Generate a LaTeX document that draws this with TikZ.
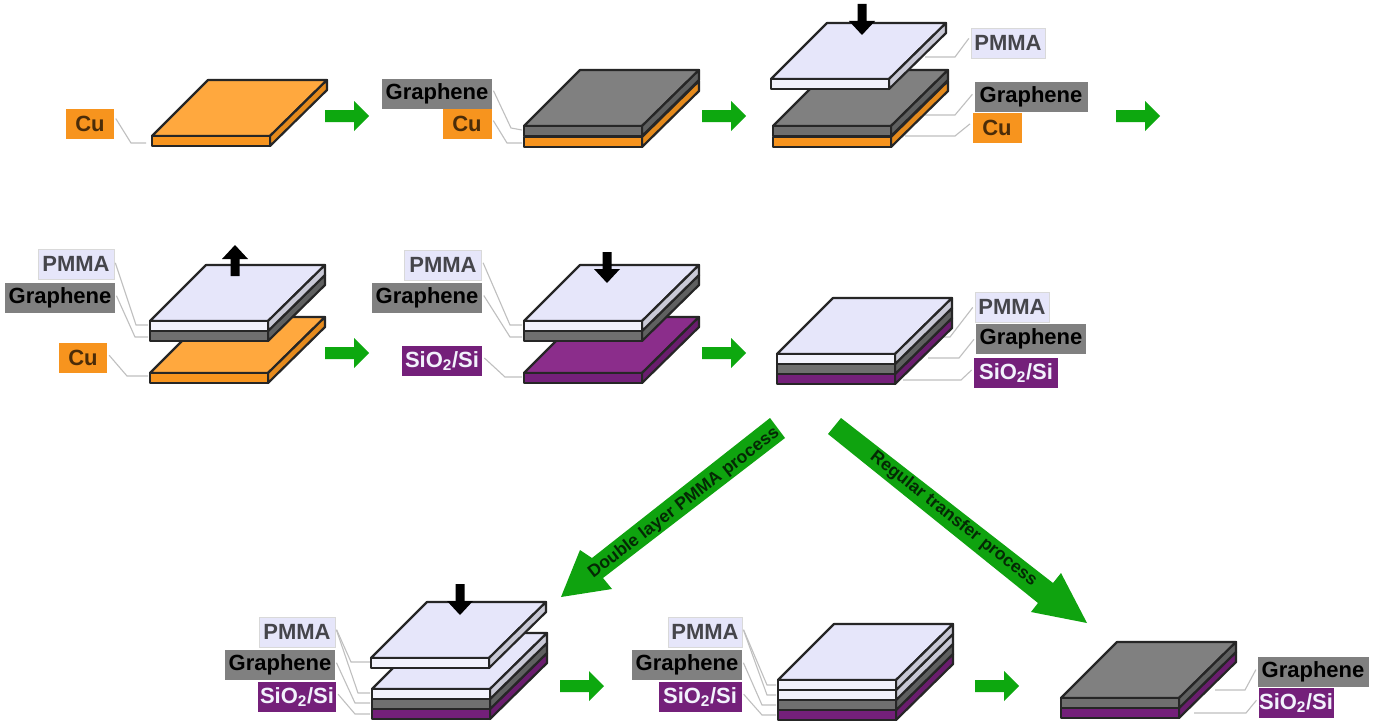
\documentclass[tikz,border=0pt]{standalone}
\usepackage{fontspec}
\setmainfont{Liberation Sans}
\definecolor{cuTop}{HTML}{FFA83E}
\definecolor{cuFront}{HTML}{F7941E}
\definecolor{cuSide}{HTML}{E58A1C}
\definecolor{grTop}{HTML}{808080}
\definecolor{grFront}{HTML}{6F6F6F}
\definecolor{grSide}{HTML}{5F6060}
\definecolor{pmTop}{HTML}{E6E6FA}
\definecolor{pmFront}{HTML}{F2F2FC}
\definecolor{pmSide}{HTML}{C9C9D6}
\definecolor{siTop}{HTML}{8B2D8B}
\definecolor{siFront}{HTML}{74207A}
\definecolor{siSide}{HTML}{6A1D6E}
\definecolor{flow}{HTML}{0DA80F}
\definecolor{flowB}{HTML}{0FA30F}
\tikzset{
  slab/.style={draw=black!85,line width=2.2pt,line join=round},
  leader/.style={draw=black!25,line width=1.1pt,shorten <=3pt},
  tag/.style={font=\bfseries\fontsize{22}{22}\selectfont,minimum height=30pt,inner sep=0pt,anchor=center},
  cutag/.style={tag,fill=cuFront,text=black!70!cuFront},
  grtag/.style={tag,fill=grTop,text=black},
  pmtag/.style={tag,fill=pmTop,draw=black!15,line width=0.8pt,text=black!70!pmTop},
  sitag/.style={tag,fill=siFront,text=pmFront},
  flowtext/.style={font=\bfseries\fontsize{17.5}{17.5}\selectfont,text=black!75!flowB,inner sep=0pt}
}
% face on top: x, y of front-left corner, colour
\newcommand\topface[3]{\filldraw[slab,fill=#3] (#1,#2) -- (#1+56,#2-56) -- (#1+175,#2-56) -- (#1+118,#2) -- cycle;}
% one layer: x, y front top, thickness, front colour, side colour
\newcommand\layer[5]{%
  \filldraw[slab,fill=#5] (#1+118,#2) -- (#1+175,#2-56) -- (#1+175,#2-56+#3) -- (#1+118,#2+#3) -- cycle;
  \filldraw[slab,fill=#4] (#1,#2) rectangle (#1+118,#2+#3);}
\newcommand\lcu[2]{\layer{#1}{#2}{10}{cuFront}{cuSide}}
\newcommand\lgr[2]{\layer{#1}{#2}{10}{grFront}{grSide}}
\newcommand\lpm[2]{\layer{#1}{#2}{10}{pmFront}{pmSide}}
\newcommand\lsi[2]{\layer{#1}{#2}{10}{siFront}{siSide}}
% green step arrow: left x, centre y
\newcommand\stepar[2]{\fill[flow] (#1,#2-6) -- (#1+29,#2-6) -- (#1+29,#2-15) -- (#1+44,#2) -- (#1+29,#2+15) -- (#1+29,#2+6) -- (#1,#2+6) -- cycle;}
% black arrow down / up: centre x, top y
\newcommand\blackdown[2]{\fill[black] (#1-4.5,#2) -- (#1+4.5,#2) -- (#1+4.5,#2+17) -- (#1+13,#2+17) -- (#1,#2+31) -- (#1-13,#2+17) -- (#1-4.5,#2+17) -- cycle;}
\newcommand\blackup[2]{\fill[black] (#1-4.5,#2+31) -- (#1+4.5,#2+31) -- (#1+4.5,#2+14) -- (#1+13,#2+14) -- (#1,#2) -- (#1-13,#2+14) -- (#1-4.5,#2+14) -- cycle;}
% leader: label node, suffix, anchor, y at the label, elbow, end
\newcommand\leadline[6]{\coordinate (#1#2) at (#6); \draw[leader] (#1.#3 |- 0,#4) -- (#5) -- (#1#2);}
\newcommand\sio{SiO\textsubscript{2}/Si}
\begin{document}
\begin{tikzpicture}[x=1pt,y=-1pt]
\useasboundingbox (0,0) rectangle (1376,725);
\fill[white] (0,0) rectangle (1376,725);

% labels
\node[cutag,minimum width=48pt] (cuA) at (90,124) {Cu};
\node[grtag,minimum width=110pt] (grB) at (437,94) {Graphene};
\node[cutag,minimum width=49pt] (cuB) at (467,124) {Cu};
\node[pmtag,minimum width=74pt] (pmC) at (1008,43) {PMMA};
\node[grtag,minimum width=113pt] (grC) at (1031,97) {Graphene};
\node[cutag,minimum width=49pt] (cuC) at (997,128) {Cu};
\node[pmtag,minimum width=76pt] (pmD) at (76,264) {PMMA};
\node[grtag,minimum width=110pt] (grD) at (60,298) {Graphene};
\node[cutag,minimum width=48pt] (cuD) at (83,358) {Cu};
\node[pmtag,minimum width=77pt] (pmE) at (443,265) {PMMA};
\node[grtag,minimum width=110pt] (grE) at (427,298) {Graphene};
\node[sitag,minimum width=80pt] (siE) at (442,361) {\sio};
\node[pmtag,minimum width=74pt] (pmF) at (1012,307) {PMMA};
\node[grtag,minimum width=110pt] (grF) at (1031,339) {Graphene};
\node[sitag,minimum width=84pt] (siF) at (1016,373) {\sio};
\node[pmtag,minimum width=76pt] (pmG) at (297,632) {PMMA};
\node[grtag,minimum width=110pt] (grG) at (280,665) {Graphene};
\node[sitag,minimum width=78pt] (siG) at (297,697) {\sio};
\node[pmtag,minimum width=74pt] (pmH) at (705,632) {PMMA};
\node[grtag,minimum width=110pt] (grH) at (687,665) {Graphene};
\node[sitag,minimum width=83pt] (siH) at (700,697) {\sio};
\node[grtag,minimum width=111pt] (grI) at (1313,672) {Graphene};
\node[sitag,minimum width=75pt] (siI) at (1296,703) {\sio};

% leaders
\leadline{cuA}{e}{east}{116}{131,143}{146,143}
\leadline{grB}{e}{east}{88}{511,128}{522,130}
\leadline{cuB}{e}{east}{118}{507,143}{522,143}
\leadline{pmC}{e}{west}{36}{955,57}{925,57}
\leadline{grC}{e}{west}{92}{955,115}{925,115}
\leadline{cuC}{e}{west}{122}{955,136}{905,136}
\leadline{pmD}{e}{east}{260}{136,325}{148,325}
\leadline{grD}{e}{east}{293}{135,337}{148,337}
\leadline{cuD}{e}{east}{353}{127,376}{148,376}
\leadline{pmE}{e}{east}{260}{510,325}{522,325}
\leadline{grE}{e}{east}{293}{510,337}{522,337}
\leadline{siE}{e}{east}{356}{505,377}{522,377}
\leadline{pmF}{e}{west}{305}{950,337}{935,337}
\leadline{grF}{e}{west}{337}{959,358}{928,358}
\leadline{siF}{e}{west}{368}{961,380}{903,380}
\leadline{pmG}{e}{east}{627}{358,693}{370,693}
\leadline{pmG}{f}{east}{627}{351,662}{370,662}
\leadline{grG}{e}{east}{660}{355,703}{370,703}
\leadline{siG}{e}{east}{692}{355,714}{370,714}
\leadline{pmH}{e}{east}{627}{767,685}{776,685}
\leadline{pmH}{f}{east}{627}{767,695}{776,695}
\leadline{grH}{e}{east}{660}{762,705}{776,705}
\leadline{siH}{e}{east}{692}{762,715}{776,715}
\leadline{grI}{e}{west}{667}{1245,690}{1215,690}
\leadline{siI}{e}{west}{698}{1246,713}{1194,713}

% stage A
\topface{152}{136}{cuTop}\lcu{152}{136}
% stage B
\topface{524}{126}{grTop}\lcu{524}{137}\lgr{524}{126}
% stage C
\topface{773}{126}{grTop}\lcu{773}{137}\lgr{773}{126}
\topface{771}{79}{pmTop}\lpm{771}{79}
\blackdown{862}{4}
% stage D
\topface{150}{373}{cuTop}\lcu{150}{373}
\topface{150}{321}{pmTop}\lgr{150}{331}\lpm{150}{321}
\blackup{235}{245}
% stage E
\topface{524}{373}{siTop}\lsi{524}{373}
\topface{524}{321}{pmTop}\lgr{524}{331}\lpm{524}{321}
\blackdown{607}{252}
% stage F
\topface{777}{354}{pmTop}\lsi{777}{374}\lgr{777}{364}\lpm{777}{354}
% stage G
\topface{372}{689}{pmTop}\lsi{372}{709}\lgr{372}{699}\lpm{372}{689}
\topface{371}{658}{pmTop}\lpm{371}{658}
\blackdown{460}{584}
% stage H
\topface{778}{680}{pmTop}\lsi{778}{710}\lgr{778}{700}\lpm{778}{690}\lpm{778}{680}
% stage I
\topface{1061}{698}{grTop}\lsi{1061}{708}\lgr{1061}{698}

% step arrows
\stepar{325}{116}
\stepar{702}{116}
\stepar{1116}{116}
\stepar{325}{353}
\stepar{702}{353}
\stepar{560}{686}
\stepar{975}{686}

% branch arrows
\fill[flowB] (770,418) -- (785,438) -- (603,578) -- (612,589) -- (561,597) -- (580,550) -- (592,558) -- cycle;
\fill[flowB] (841,418) -- (828,434) -- (1038,603) -- (1031,612) -- (1087,623) -- (1061,573) -- (1053,583) -- cycle;
\node[flowtext,rotate=37.5] (dbl) at (684,503) {Double layer PMMA process};
\node[flowtext,rotate=-38.3] (reg) at (953.5,519) {Regular transfer process};
\end{tikzpicture}
\end{document}
